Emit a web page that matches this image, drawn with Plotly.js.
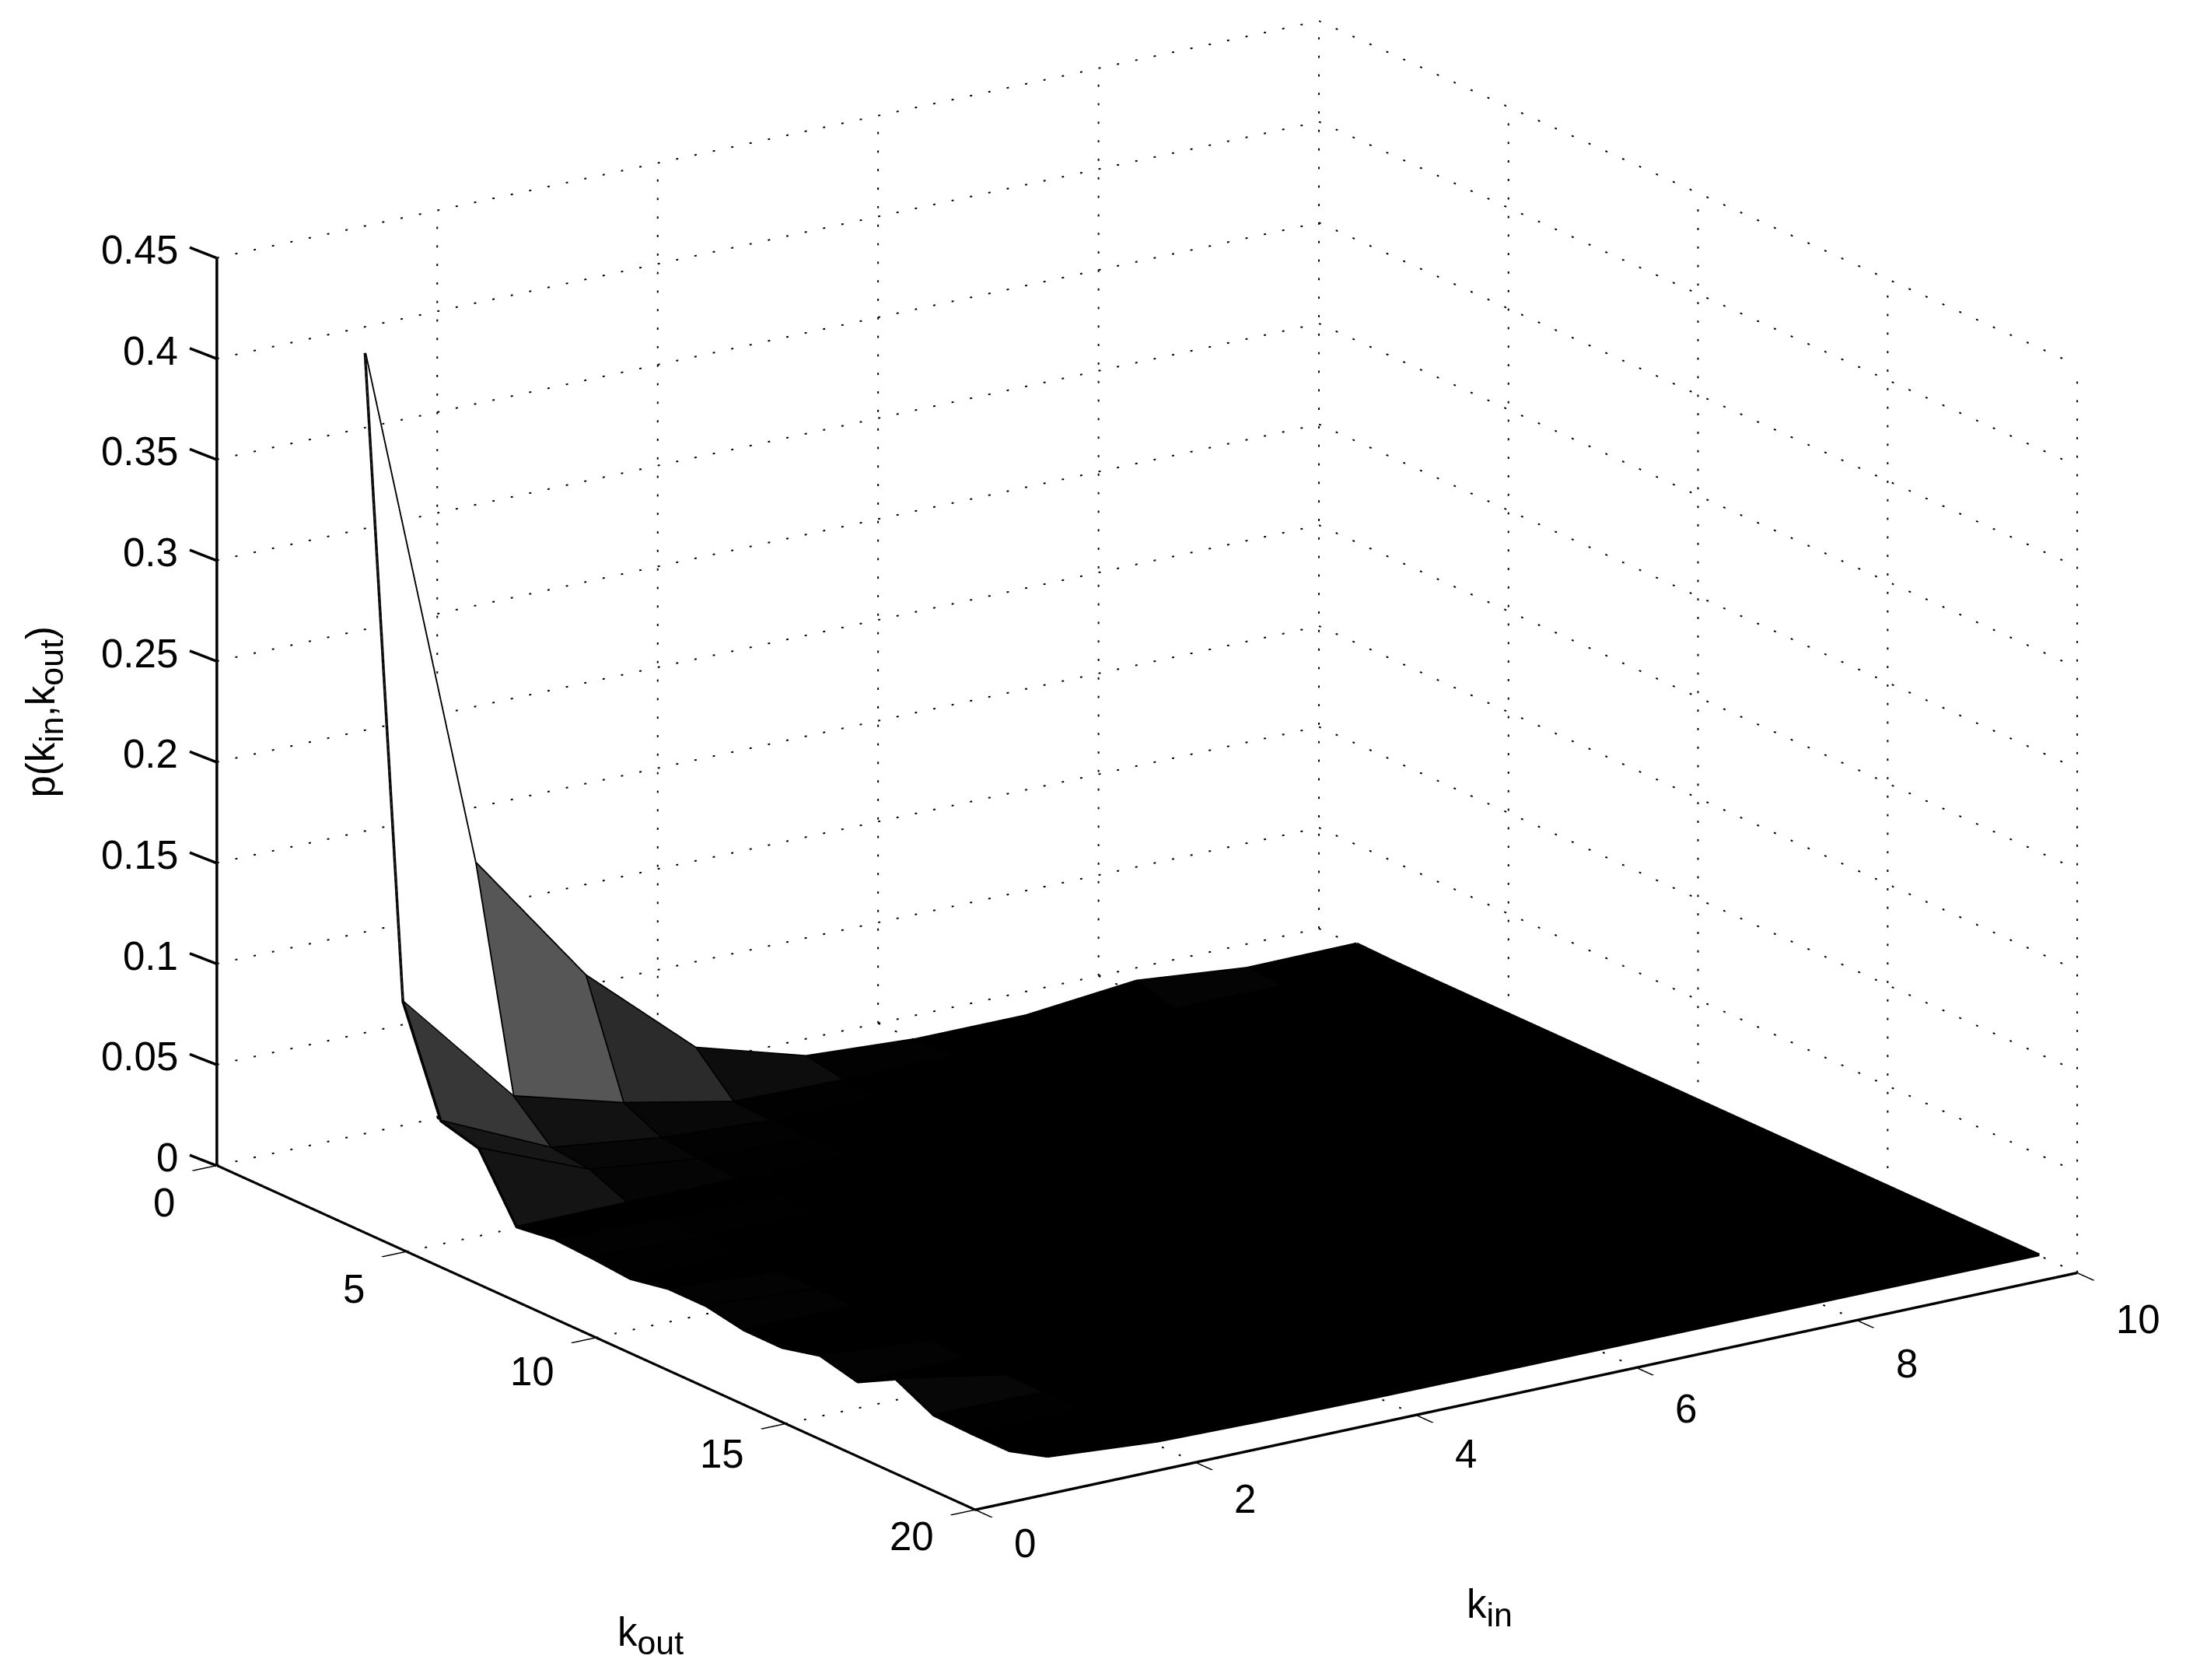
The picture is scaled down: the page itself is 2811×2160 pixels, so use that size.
<!DOCTYPE html>
<html>
<head>
<meta charset="utf-8">
<script src="https://cdn.plot.ly/plotly-3.0.1.min.js"></script>
<style>html,body{margin:0;padding:0;background:#fff}#chart{width:2811px;height:2160px}</style>
</head>
<body>
<div id="chart"></div>
<script>
// Node positions of the surface
const kinValues = [1,2,3,4,5,6,7,8,9,10];
const koutValues = [1,2,3,4,5,6,7,8,9,10,11,12,13,14,15,16,17,18,19];
// p(k_in,k_out), one list per k_in, ordered by k_out
const pKin1  = [0.3996,0.0865,0.0359,0.0309,0.0004,0.0030,0.0020,0.0004,0.0040,0.0040,0.0005,0.0004,0.0050,0.0004,0.0104,0.0010,0.0004,0.0004,0.0062];
const pKin2  = [0.1353,0.0278,0.0108,0.0085,0.0006,0.0008,0.0005,0.0007,0.0006,0.0005,0.0004,0.0006,0.0005,0.0004,0.0005,0.0004,0.0005,0.0006,0.0020];
const pKin3  = [0.0676,0.0127,0.0039,0.0020,0.0005,0.0006,0.0004,0.0005,0.0004,0.0006,0.0004,0.0005,0.0004,0.0005,0.0004,0.0004,0.0005,0.0004,0.0010];
const pKin4  = [0.0198,0.0015,0.0006,0.0005,0.0004,0.0005,0.0004,0.0004,0.0005,0.0004,0.0004,0.0005,0.0004,0.0004,0.0004,0.0005,0.0004,0.0004,0.0005];
const pKin5  = [0.0039,0.0006,0.0005,0.0004,0.0004,0.0004,0.0005,0.0004,0.0004,0.0004,0.0005,0.0004,0.0004,0.0004,0.0004,0.0004,0.0004,0.0005,0.0004];
const pKin6  = [0.0006,0.0005,0.0004,0.0004,0.0005,0.0004,0.0004,0.0004,0.0004,0.0005,0.0004,0.0004,0.0004,0.0005,0.0004,0.0004,0.0004,0.0004,0.0004];
const pKin7  = [0.0006,0.0004,0.0004,0.0005,0.0004,0.0004,0.0004,0.0005,0.0004,0.0004,0.0004,0.0004,0.0005,0.0004,0.0004,0.0004,0.0005,0.0004,0.0004];
const pKin8  = [0.0060,0.0005,0.0004,0.0004,0.0004,0.0005,0.0004,0.0004,0.0004,0.0004,0.0005,0.0004,0.0004,0.0004,0.0004,0.0005,0.0004,0.0004,0.0004];
const pKin9  = [0.0006,0.0004,0.0005,0.0004,0.0004,0.0004,0.0004,0.0005,0.0004,0.0004,0.0004,0.0004,0.0004,0.0005,0.0004,0.0004,0.0004,0.0004,0.0004];
const pKin10 = [0.0010,0.0005,0.0004,0.0004,0.0004,0.0004,0.0004,0.0004,0.0004,0.0004,0.0004,0.0004,0.0004,0.0004,0.0004,0.0004,0.0004,0.0004,0.0004];
const pRows = [pKin1,pKin2,pKin3,pKin4,pKin5,pKin6,pKin7,pKin8,pKin9,pKin10];
// Axis ticks
const kinTicks = [0,2,4,6,8,10];
const koutTicks = [0,5,10,15,20];
const pTicks = [0,0.05,0.1,0.15,0.2,0.25,0.3,0.35,0.4,0.45];
const pTickLabels = ['0','0.05','0.1','0.15','0.2','0.25','0.3','0.35','0.4','0.45'];
const kinMax = 10, koutMax = 20, pMax = 0.45;
const colorTop = Math.max(...pKin1);

const nI = kinValues.length, nJ = koutValues.length;
const vx=[],vy=[],vz=[],fi=[],fj=[],fk=[],fc=[];
for(let a=0;a<nI;a++)for(let b=0;b<nJ;b++){vx.push(kinValues[a]);vy.push(koutValues[b]);vz.push(pRows[a][b]);}
const id=(a,b)=>a*nJ+b;
for(let a=0;a<nI-1;a++)for(let b=0;b<nJ-1;b++){
  const g=Math.round(255*Math.min(1,pRows[a][b]/colorTop));
  const c=`rgb(${g},${g},${g})`;
  fi.push(id(a,b),id(a,b));fj.push(id(a+1,b),id(a+1,b+1));fk.push(id(a+1,b+1),id(a,b+1));fc.push(c,c);
}
const ex=[],ey=[],ez=[];
for(let a=0;a<nI;a++){for(let b=0;b<nJ;b++){ex.push(kinValues[a]);ey.push(koutValues[b]);ez.push(pRows[a][b]);}ex.push(null);ey.push(null);ez.push(null);}
for(let b=0;b<nJ;b++){for(let a=0;a<nI;a++){ex.push(kinValues[a]);ey.push(koutValues[b]);ez.push(pRows[a][b]);}ex.push(null);ey.push(null);ez.push(null);}

// Dotted grid: each grid line is broken into short dashes along its own length
const gx=[],gy=[],gz=[];
const dotted=(x0,y0,z0,x1,y1,z1,count)=>{
  const dash=0.12;
  for(let n=0;n<count;n++){
    const s=n/count, e=(n+dash)/count;
    gx.push(x0+(x1-x0)*s,x0+(x1-x0)*e,null);
    gy.push(y0+(y1-y0)*s,y0+(y1-y0)*e,null);
    gz.push(z0+(z1-z0)*s,z0+(z1-z0)*e,null);
  }
};
const nKinDots=60, nKoutDots=45, nZDots=49;
kinTicks.forEach(t=>{dotted(t,0,0,t,koutMax,0,nKoutDots);dotted(t,0,0,t,0,pMax,nZDots);});
koutTicks.forEach(t=>{dotted(0,t,0,kinMax,t,0,nKinDots);dotted(kinMax,t,0,kinMax,t,pMax,nZDots);});
pTicks.forEach(t=>{dotted(0,0,t,kinMax,0,t,nKinDots);dotted(kinMax,0,t,kinMax,koutMax,t,nKoutDots);});

const font={family:'"Liberation Sans",Arial,sans-serif',size:51,color:'#000'};
const ann=[];
const label=(x,y,z,text,xshift,yshift,extra)=>ann.push(Object.assign({x,y,z,text,xshift,yshift,showarrow:false,font,xanchor:'center',yanchor:'middle'},extra||{}));
const sub=s=>`<sub><span style="font-size:120%">${s}</span></sub>`;
pTicks.forEach((t,i)=>{
  label(0,0,t,pTickLabels[i],-47,10,{xanchor:'right'});
  // tick mark of the vertical axis, pointing away along k_out
  ann.push({x:0,y:0,z:t,showarrow:true,arrowhead:0,arrowwidth:3.5,arrowcolor:'#000',standoff:0,ax:-36,ay:-14,font:{size:1}});
});
koutTicks.forEach(t=>label(0,t,0,String(t),-51,-48+Math.max(0,t-5)*0.95,{xanchor:'right'}));
kinTicks.forEach(t=>label(t,koutMax,0,String(t),48,-43.5-1.6*t,{xanchor:'left'}));
label(kinMax/2,koutMax,0,'k'+sub('in'),-47,-278);
label(0,koutMax/2,0,'k'+sub('out'),70,-383);
label(0,0,pMax/2,'p(k'+sub('in')+',k'+sub('out')+')',-221,0,{textangle:-90});

const axisBase={showbackground:false,showgrid:false,zeroline:false,showspikes:false,showline:true,linecolor:'#000',linewidth:7,
  ticks:'outside',ticklen:38,tickwidth:5,tickcolor:'#000',showticklabels:false,tickmode:'array',title:{text:''}};

const data=[
 {type:'scatter3d',mode:'lines',x:gx,y:gy,z:gz,line:{color:'#000',width:4},hoverinfo:'skip',showlegend:false},
 {type:'mesh3d',x:vx,y:vy,z:vz,i:fi,j:fj,k:fk,facecolor:fc,flatshading:true,
  lighting:{ambient:1,diffuse:0,specular:0,fresnel:0,roughness:1},hoverinfo:'skip',showscale:false},
 {type:'scatter3d',mode:'lines',x:ex,y:ey,z:ez,line:{color:'#000',width:7},hoverinfo:'skip',showlegend:false}
];
const E=3, A=1.7535;
const layout={
 width:2811,height:2160,margin:{l:0,r:0,t:0,b:0},paper_bgcolor:'#fff',showlegend:false,
 scene:{
  domain:{x:[0.05,0.9993],y:[0.0902,0.9986]},
  aspectmode:'manual',aspectratio:{x:A,y:A,z:0.7115*1.76},
  camera:{projection:{type:'orthographic'},up:{x:0,y:0,z:1},center:{x:0,y:0,z:0},eye:{x:-0.5385*E,y:-0.7826*E,z:0.3124*E}},
  xaxis:Object.assign({},axisBase,{range:[0,kinMax],tickvals:kinTicks}),
  yaxis:Object.assign({},axisBase,{range:[koutMax,0],tickvals:koutTicks}),
  zaxis:Object.assign({},axisBase,{range:[0,pMax+1e-7],tickvals:pTicks,ticks:''}),
  annotations:ann,
  bgcolor:'#fff'
 }
};
Plotly.newPlot('chart',data,layout,{displayModeBar:false});
</script>
</body>
</html>
